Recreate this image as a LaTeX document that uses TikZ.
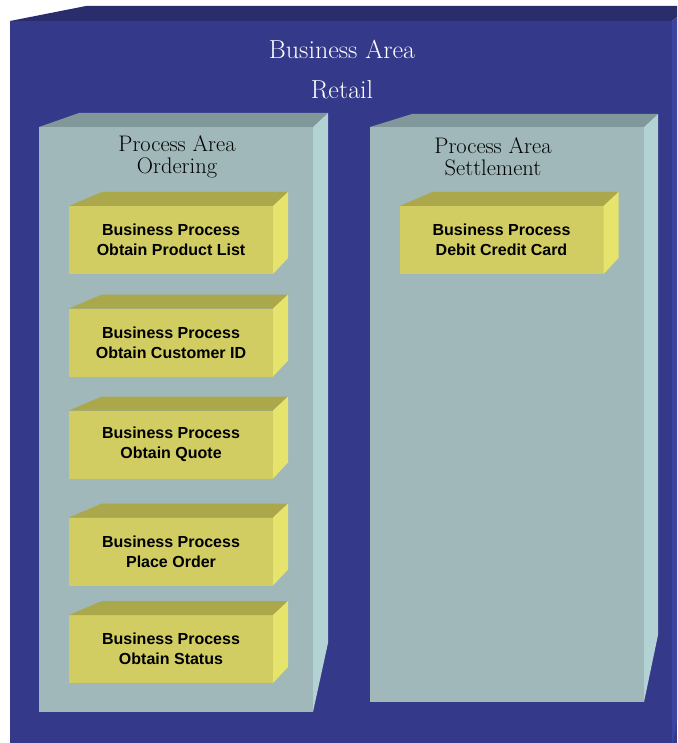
\documentclass[tikz,border=0pt]{standalone}
\usepackage{fontspec}
\newfontfamily\procfont{Liberation Sans}
\usetikzlibrary{calc}

\definecolor{areafront}{RGB}{52,57,137}
\definecolor{areatop}{RGB}{43,44,108}
\definecolor{areaside}{RGB}{59,68,160}
\definecolor{grpfront}{RGB}{160,184,185}
\definecolor{grptop}{RGB}{128,152,153}
\definecolor{grpside}{RGB}{179,210,212}
\definecolor{bpfront}{RGB}{209,205,98}
\definecolor{bptop}{RGB}{171,167,75}
\definecolor{bpside}{RGB}{230,228,108}

\tikzset{
  face/.style={rectangle, inner sep=0pt, outer sep=0pt},
  areaface/.style={face, fill=areafront, minimum width=662pt, minimum height=728pt},
  groupface/.style={face, fill=grpfront, minimum width=274pt},
  bpbox/.style={face, fill=bpfront, minimum width=204pt, minimum height=68pt,
    align=center, font=\procfont\bfseries\fontsize{16}{20}\selectfont},
  areatitle/.style={align=center, text=white, font=\fontsize{26}{40}\selectfont},
  grouptitle/.style={align=center, font=\fontsize{22.5}{22}\selectfont},
}

% top and right faces of a box whose front face is node #1
% #2/#3: shift of back-left/back-right top corners, #4: rise of top edge,
% #5: rise of bottom-right edge, #6: colour family
\newcommand{\prismfaces}[6]{%
  \fill[#6top] (#1.north west) -- ++(#2,-#4) -- ($(#1.north east)+(#3,-#4)$)
    -- (#1.north east) -- cycle;
  \fill[#6side] (#1.north east) -- ++(#3,-#4) -- ($(#1.south east)+(#3,-#5)$)
    -- (#1.south east) -- cycle;}

\begin{document}
\begin{tikzpicture}[x=1pt, y=-1pt]
  \useasboundingbox (0,0) rectangle (677,743);
  \clip (0,0) rectangle (677,743);

  % business area
  \fill[areafront] (10,21) rectangle (677,743);
  \node[areaface] (area) at (341,385) {};
  \prismfaces{area}{76}{18}{15}{103}{area}
  \node[areatitle] (areaname) at (342,70) {Business Area\\Retail};

  % process areas
  \node[groupface, minimum height=585pt] (ordering) at (176,419.5) {};
  \prismfaces{ordering}{40}{15}{14}{69}{grp}
  \node[grouptitle] (ordname) at (177,157) {Process Area\\Ordering};

  \node[groupface, minimum height=575pt] (settlement) at (507,414.5) {};
  \prismfaces{settlement}{42}{14}{13}{67}{grp}
  \node[grouptitle] (setname) at (493,157) {Process Area\\Settlement};

  % business processes
  \node[bpbox] (bp1) at (171,240) {Business Process\\Obtain Product List};
  \node[bpbox] (bp2) at (171,342.5) {Business Process\\Obtain Customer ID};
  \node[bpbox] (bp3) at (171,444.5) {Business Process\\Obtain Quote};
  \node[bpbox] (bp4) at (171,551.5) {Business Process\\Place Order};
  \node[bpbox] (bp5) at (171,649) {Business Process\\Obtain Status};
  \node[bpbox] (bp6) at (501.5,240) {Business Process\\Debit Credit Card};
  \foreach \b in {bp1,bp2,bp3,bp4,bp5,bp6}{\prismfaces{\b}{33}{15}{14}{16}{bp}}
\end{tikzpicture}
\end{document}
